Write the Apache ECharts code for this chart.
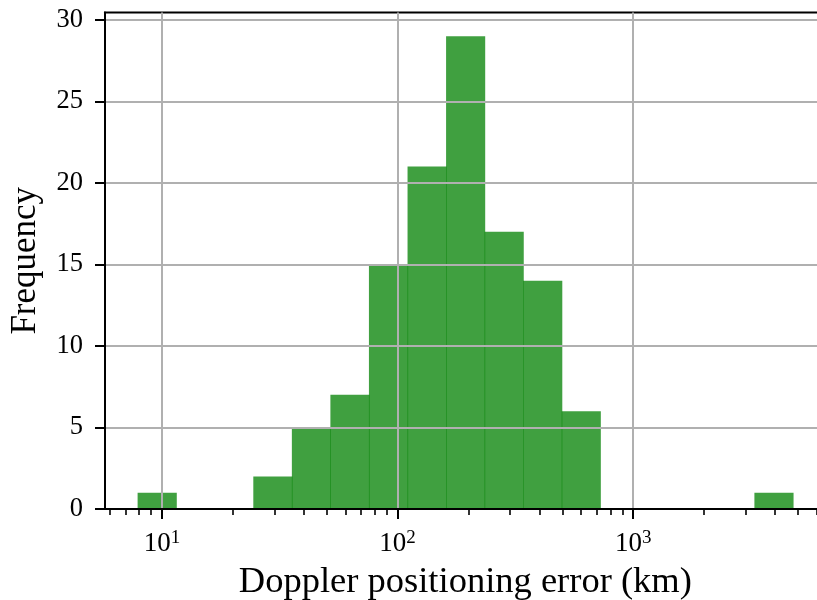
<!DOCTYPE html>
<html>
<head>
<meta charset="utf-8">
<script src="https://cdn.jsdelivr.net/npm/echarts@6/dist/echarts.min.js"></script>
<style>
html,body{margin:0;padding:0;background:#fff;}
#chart{width:817px;height:600px;}
</style>
</head>
<body>
<div id="chart"></div>
<script>
// Histogram bin edges (km) (log-spaced bins)
const binEdges = [7.88, 11.49, 16.75, 24.41, 35.58, 51.85, 75.56, 110.2, 160.6, 234.0, 341.1, 497.1, 724.4, 1056, 1539, 2243, 3268, 4764];
// Counts per bin
const counts = [1, 0, 0, 2, 5, 7, 15, 21, 29, 17, 14, 6, 0, 0, 0, 0, 1];
// Axis ranges
const xRange = [5.73, 6560];
const yRange = [0, 30.45];
// Tick values
const xMajorTicks = [10, 100, 1000];
const xMinorTicks = [6, 7, 8, 9, 20, 30, 40, 50, 60, 70, 80, 90, 200, 300, 400, 500, 600, 700, 800, 900, 2000, 3000, 4000, 5000, 6000];
const yTicks = [0, 5, 10, 15, 20, 25, 30];
const xLabel = 'Doppler positioning error (km)';
const yLabel = 'Frequency';

const FONT = '"Liberation Serif", "DejaVu Serif", serif';
const lg = Math.log10;

const barData = [];
for (let i = 0; i < counts.length; i++) {
  if (counts[i] > 0) barData.push([lg(binEdges[i]), lg(binEdges[i + 1]), counts[i]]);
}

const chart = echarts.init(document.getElementById('chart'), null, {renderer: 'canvas'});
const axisCommon = {
  type: 'value',
  min: lg(xRange[0]),
  max: lg(xRange[1]),
  gridIndex: 0,
  position: 'bottom'
};
chart.setOption({
  animation: false,
  backgroundColor: '#fff',
  grid: {
    left: 105, top: 12.5, width: 720.7, height: 496.5,
    outerBoundsMode: 'none',
    containLabel: false,
    show: true, borderColor: '#000', borderWidth: 2, backgroundColor: 'transparent'
  },
  xAxis: [
    Object.assign({}, axisCommon, {
      z: 5,
      name: xLabel,
      nameLocation: 'middle',
      nameGap: 55,
      nameTextStyle: {fontFamily: FONT, fontSize: 36.5, color: '#000'},
      axisLine: {show: true, onZero: false, lineStyle: {color: '#000', width: 2}},
      axisTick: {show: true, inside: false, length: 10, customValues: xMajorTicks.map(lg), lineStyle: {color: '#000', width: 2}},
      axisLabel: {
        show: true, margin: 20, customValues: xMajorTicks.map(lg),
        formatter: function (v) { return '{b|10}{s|' + Math.round(v) + '}'; },
        rich: {
          b: {fontFamily: FONT, fontSize: 27, color: '#000', lineHeight: 30},
          s: {fontFamily: FONT, fontSize: 19, color: '#000', lineHeight: 18, verticalAlign: 'top'}
        }
      },
      splitLine: {show: true, lineStyle: {color: '#b0b0b0', width: 2}}
    }),
    Object.assign({}, axisCommon, {
      z: 5,
      axisLine: {show: false},
      axisTick: {show: true, inside: false, length: 6, customValues: xMinorTicks.map(lg), lineStyle: {color: '#000', width: 1.6}},
      axisLabel: {show: false},
      splitLine: {show: false}
    })
  ],
  yAxis: {
    type: 'value',
    z: 5,
    min: yRange[0],
    max: yRange[1],
    name: yLabel,
    nameLocation: 'middle',
    nameGap: 62,
    nameRotate: 90,
    nameTextStyle: {fontFamily: FONT, fontSize: 35, color: '#000'},
    axisLine: {show: true, onZero: false, lineStyle: {color: '#000', width: 2}},
    axisTick: {show: true, inside: false, length: 10, customValues: yTicks, lineStyle: {color: '#000', width: 2}},
    axisLabel: {show: true, margin: 22, customValues: yTicks, fontFamily: FONT, fontSize: 26.5, color: '#000'},
    splitLine: {show: true, lineStyle: {color: '#b0b0b0', width: 2}}
  },
  series: [{
    type: 'custom',
    xAxisIndex: 0,
    yAxisIndex: 0,
    z: 2,
    renderItem: function (params, api) {
      const p0 = api.coord([api.value(0), 0]);
      const p1 = api.coord([api.value(1), api.value(2)]);
      return {
        type: 'rect',
        shape: {x: p0[0], y: p1[1], width: p1[0] - p0[0] + 0.6, height: p0[1] - p1[1]},
        style: {fill: 'rgba(0,128,0,0.75)'}
      };
    },
    encode: {x: [0, 1], y: 2},
    data: barData
  }]
});
</script>
</body>
</html>
